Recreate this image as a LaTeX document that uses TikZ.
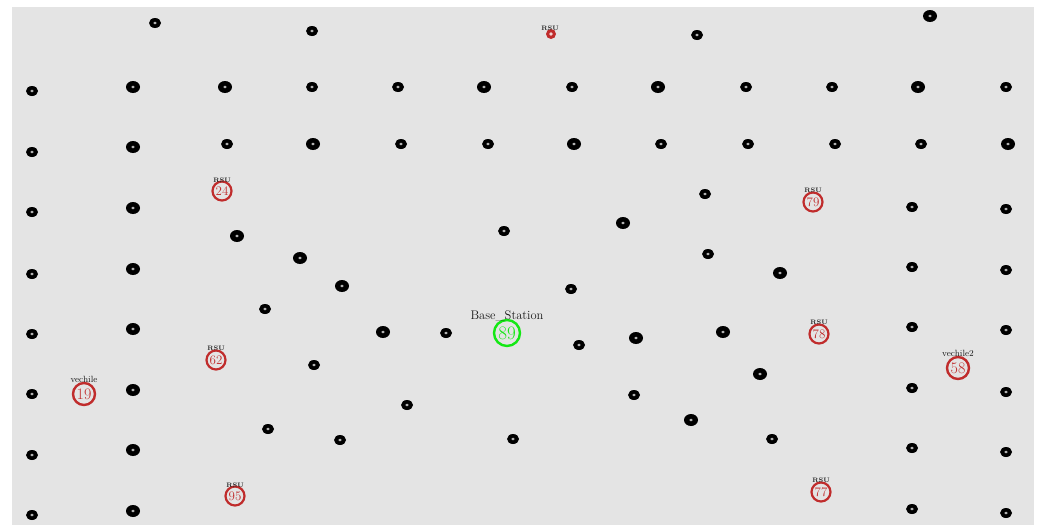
\documentclass[tikz,border=0pt]{standalone}
\usetikzlibrary{shapes.geometric}
\definecolor{bg}{RGB}{228,228,228}
\definecolor{rsured}{RGB}{192,44,44}
\definecolor{bsgreen}{RGB}{20,232,20}
\tikzset{
  bn/.style={ellipse, fill=black, minimum width=12pt, minimum height=10pt, inner sep=0pt,
    path picture={\fill[gray!60] (path picture bounding box.center) ellipse (1.8pt and 1.4pt);}},
  bnl/.style={bn, minimum width=14pt, minimum height=12pt},
  rsu/.style={circle, draw=rsured, line width=2.2pt, fill=bg, text=rsured, minimum size=19pt, inner sep=0pt, font=\fontsize{13}{13}\selectfont},
  veh/.style={rsu, minimum size=22pt, line width=2.4pt, font=\fontsize{16}{16}\selectfont},
  rsusmall/.style={circle, fill=rsured, minimum size=10pt, inner sep=0pt,
    path picture={\fill[white!80!rsured] (path picture bounding box.center) circle (1.8pt);}},
  bs/.style={circle, draw=bsgreen, line width=2.4pt, fill=bg, text=bsgreen, minimum size=26pt, inner sep=0pt, font=\fontsize{19}{19}\selectfont},
  lab/.style={font=\fontsize{6.5}{6.5}\selectfont\bfseries, text=black!85, inner sep=0pt},
  vlab/.style={font=\fontsize{9}{9}\selectfont, text=black!90, inner sep=0pt},
  bslab/.style={font=\fontsize{12.5}{12.5}\selectfont, text=black!90, inner sep=0pt}
}
\begin{document}
\begin{tikzpicture}[x=1pt,y=-1pt]
\useasboundingbox (0,0) rectangle (1040,525);
\fill[white] (0,0) rectangle (1040,525);
\fill[bg] (12,7) rectangle (1034,525);
% top scattered
\node[bn] (t1) at (155,23) {};
\node[bn] (t2) at (312,31) {};
\node[rsusmall] (rs0) at (551,34) {};
\node[lab] (rs0l) at (550,28) {RSU};
\node[bn] (t3) at (697,35) {};
\node[bnl] (t4) at (930,16) {};
% row 1
\node[bn] (a1) at (32,91) {};
\node[bnl] (a2) at (133,87) {};
\node[bnl] (a3) at (225,87) {};
\node[bn] (a4) at (312,87) {};
\node[bn] (a5) at (398,87) {};
\node[bnl] (a6) at (484,87) {};
\node[bn] (a7) at (572,87) {};
\node[bnl] (a8) at (658,87) {};
\node[bn] (a9) at (746,87) {};
\node[bn] (a10) at (832,87) {};
\node[bnl] (a11) at (918,87) {};
\node[bn] (a12) at (1006,87) {};
% row 2
\node[bn] (b1) at (32,152) {};
\node[bnl] (b2) at (133,147) {};
\node[bn] (b3) at (227,144) {};
\node[bnl] (b4) at (313,144) {};
\node[bn] (b5) at (401,144) {};
\node[bn] (b6) at (488,144) {};
\node[bnl] (b7) at (574,144) {};
\node[bn] (b8) at (661,144) {};
\node[bn] (b9) at (748,144) {};
\node[bn] (b10) at (835,144) {};
\node[bn] (b11) at (921,144) {};
\node[bnl] (b12) at (1008,144) {};
% left columns
\node[bn] (c1) at (32,212) {};
\node[bn] (c2) at (32,274) {};
\node[bn] (c3) at (32,334) {};
\node[bn] (c4) at (32,394) {};
\node[bn] (c5) at (32,455) {};
\node[bn] (c6) at (32,515) {};
\node[bnl] (d1) at (133,208) {};
\node[bnl] (d2) at (133,269) {};
\node[bnl] (d3) at (133,329) {};
\node[bnl] (d4) at (133,390) {};
\node[bnl] (d5) at (133,450) {};
\node[bnl] (d6) at (133,511) {};
% right columns
\node[bn] (e1) at (912,207) {};
\node[bn] (e2) at (912,267) {};
\node[bn] (e3) at (912,327) {};
\node[bn] (e4) at (912,388) {};
\node[bn] (e5) at (912,448) {};
\node[bn] (e6) at (912,509) {};
\node[bn] (f1) at (1006,209) {};
\node[bn] (f2) at (1006,270) {};
\node[bn] (f3) at (1006,330) {};
\node[bn] (f4) at (1006,392) {};
\node[bn] (f5) at (1006,452) {};
\node[bn] (f6) at (1006,513) {};
% middle scattered
\node[bnl] (m1) at (237,236) {};
\node[bnl] (m2) at (300,258) {};
\node[bnl] (m3) at (342,286) {};
\node[bn] (m4) at (265,309) {};
\node[bnl] (m5) at (383,332) {};
\node[bn] (m6) at (446,333) {};
\node[bn] (m7) at (504,231) {};
\node[bnl] (m8) at (623,223) {};
\node[bn] (m9) at (571,289) {};
\node[bn] (m10) at (579,345) {};
\node[bnl] (m11) at (636,338) {};
\node[bn] (m12) at (705,194) {};
\node[bn] (m13) at (708,254) {};
\node[bnl] (m14) at (780,273) {};
\node[bnl] (m15) at (723,332) {};
\node[bnl] (m16) at (760,374) {};
\node[bn] (m17) at (634,395) {};
\node[bnl] (m18) at (691,420) {};
\node[bn] (m19) at (772,439) {};
\node[bn] (m20) at (513,439) {};
\node[bn] (m21) at (407,405) {};
\node[bn] (m22) at (340,440) {};
\node[bn] (m23) at (268,429) {};
\node[bn] (m24) at (314,365) {};
% RSUs
\node[rsu] (r24) at (222,191) {24};
\node[lab] (r24l) at (222,180) {RSU};
\node[rsu] (r62) at (216,360) {62};
\node[lab] (r62l) at (216,348) {RSU};
\node[rsu] (r95) at (235,496) {95};
\node[lab] (r95l) at (235,485) {RSU};
\node[rsu] (r79) at (813,202) {79};
\node[lab] (r79l) at (813,190) {RSU};
\node[rsu] (r78) at (819,334) {78};
\node[lab] (r78l) at (819,322) {RSU};
\node[rsu] (r77) at (821,492) {77};
\node[lab] (r77l) at (821,480) {RSU};
% vehicles
\node[veh] (v19) at (84,394) {19};
\node[vlab] (v19l) at (84,379) {vechile};
\node[veh] (v58) at (958,368) {58};
\node[vlab] (v58l) at (958,353) {vechile2};
% base station
\node[bs] (bs) at (507,333) {89};
\node[bslab] (bsl) at (507,316) {Base\_Station};
\end{tikzpicture}
\end{document}
